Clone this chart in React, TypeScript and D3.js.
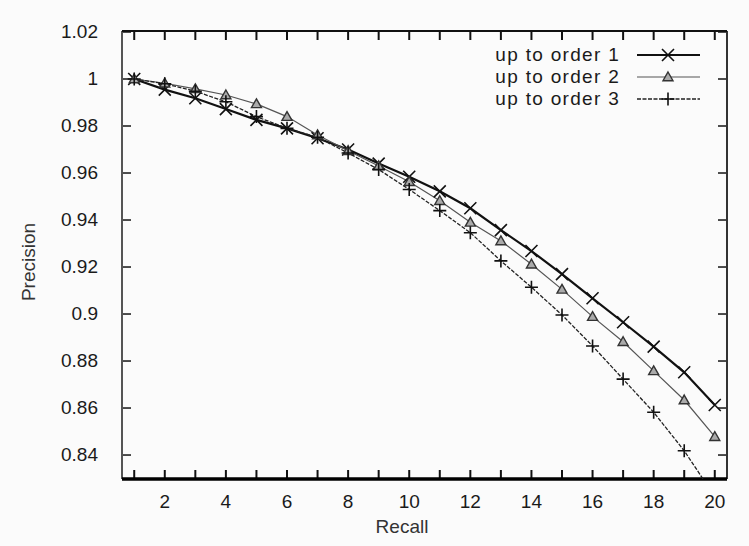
import React from "react";
import * as d3 from "d3";

// recall levels 1..20
const recall = [1, 2, 3, 4, 5, 6, 7, 8, 9, 10, 11, 12, 13, 14, 15, 16, 17, 18, 19, 20];

const order1 = [1.0, 0.9955, 0.9918, 0.9872, 0.9826, 0.979, 0.9748, 0.97, 0.964, 0.9584,
  0.9522, 0.945, 0.9357, 0.9268, 0.917, 0.9067, 0.8965, 0.8861, 0.8752, 0.8613];
const order2 = [1.0, 0.9982, 0.9958, 0.9932, 0.9894, 0.984, 0.9762, 0.9695, 0.963, 0.9563,
  0.9482, 0.939, 0.9311, 0.9212, 0.9105, 0.8989, 0.8882, 0.8758, 0.8634, 0.8478];
const order3 = [1.0, 0.998, 0.9948, 0.9903, 0.984, 0.979, 0.9752, 0.9685, 0.9615, 0.953,
  0.944, 0.9346, 0.9226, 0.9114, 0.8996, 0.8864, 0.8723, 0.8582, 0.8418, 0.8223];

const xTicks = recall;
const xLabels = [2, 4, 6, 8, 10, 12, 14, 16, 18, 20];
const yTicks = [1.02, 1, 0.98, 0.96, 0.94, 0.92, 0.9, 0.88, 0.86, 0.84];

const seriesNames = ["up to order 1", "up to order 2", "up to order 3"];

const W = 749, H = 546;
const L = 122, R = 727, T = 31, B = 479;
const font = "'Liberation Sans', Arial, sans-serif";

function Marker({ kind, x, y }: { kind: number; x: number; y: number }) {
  if (kind === 0) {
    const s = 6;
    return (
      <path d={`M${x - s},${y - s}L${x + s},${y + s}M${x - s},${y + s}L${x + s},${y - s}`}
        stroke="#111" strokeWidth={1.6} fill="none" />
    );
  }
  if (kind === 1) {
    const s = 5;
    return (
      <path d={`M${x},${y - s}L${x + s},${y + s * 0.75}L${x - s},${y + s * 0.75}Z`}
        stroke="#333" strokeWidth={1.4} fill="#aaa" />
    );
  }
  const s = 6.5;
  return (
    <path d={`M${x - s},${y}L${x + s},${y}M${x},${y - s}L${x},${y + s}`}
      stroke="#111" strokeWidth={1.6} fill="none" />
  );
}

export default function App() {
  const x = d3.scaleLinear().domain([0.6, 20.4]).range([L, R]);
  const y = d3.scaleLinear().domain([0.8298, 1.02]).range([B, T + 1]);

  const series = [order1, order2, order3];
  const styles = [
    { stroke: "#111", width: 2.2, dash: "none" },
    { stroke: "#555", width: 1.2, dash: "none" },
    { stroke: "#222", width: 1.3, dash: "4,1.5" },
  ];

  const line = d3.line<number>()
    .x((_, i) => x(recall[i]))
    .y(d => y(d));

  return (
    <svg width={W} height={H} style={{ position: "absolute", left: 0, top: 0 }}>
      <rect width={W} height={H} fill="#fbfbfb" />
      <defs>
        <clipPath id="plot">
          <rect x={L} y={T} width={R - L} height={B - T} />
        </clipPath>
      </defs>

      {/* ticks */}
      {xTicks.map(t => (
        <g key={"xt" + t}>
          <line x1={x(t)} x2={x(t)} y1={B} y2={B - 9} stroke="#111" strokeWidth={2} />
          <line x1={x(t)} x2={x(t)} y1={T} y2={T + 9} stroke="#111" strokeWidth={2} />
        </g>
      ))}
      {yTicks.map(t => (
        <g key={"yt" + t}>
          <line x1={L} x2={L + 9} y1={y(t)} y2={y(t)} stroke="#222" strokeWidth={1.6} />
          <line x1={R} x2={R - 9} y1={y(t)} y2={y(t)} stroke="#222" strokeWidth={1.6} />
        </g>
      ))}

      {/* frame */}
      <line x1={L} x2={L} y1={T} y2={B} stroke="#555" strokeWidth={2} />
      <line x1={R} x2={R} y1={T} y2={B} stroke="#333" strokeWidth={2} />
      <line x1={L} x2={R} y1={T} y2={T} stroke="#111" strokeWidth={2} />
      <line x1={L} x2={R} y1={B} y2={B} stroke="#000" strokeWidth={3.5} />

      {/* tick labels */}
      {xLabels.map(t => (
        <text key={"xl" + t} x={x(t)} y={508} textAnchor="middle" fontFamily={font}
          fontSize={19} fill="#1a1a1a">{t}</text>
      ))}
      {yTicks.map(t => (
        <text key={"yl" + t} x={98} y={y(t) + 6} textAnchor="end" fontFamily={font}
          fontSize={19} fill="#1a1a1a">{t === 1 ? "1" : String(t)}</text>
      ))}

      <text x={402} y={533} textAnchor="middle" fontFamily={font} fontSize={19} fill="#333">Recall</text>
      <text transform="translate(35,262) rotate(-90)" textAnchor="middle" fontFamily={font}
        fontSize={19} fill="#333">Precision</text>

      {/* series */}
      <g clipPath="url(#plot)">
        {series.map((s, k) => (
          <path key={"s" + k} d={line(s) || ""} fill="none" stroke={styles[k].stroke}
            strokeWidth={styles[k].width} strokeDasharray={styles[k].dash} />
        ))}
        {series.map((s, k) =>
          s.map((v, i) => <Marker key={`m${k}-${i}`} kind={k} x={x(recall[i])} y={y(v)} />)
        )}
      </g>

      {/* legend */}
      {seriesNames.map((n, k) => {
        const ly = 55 + k * 22;
        return (
          <g key={"lg" + k}>
            <text x={620} y={ly + 6} textAnchor="end" fontFamily={font} fontSize={19}
              letterSpacing={1.3} fill="#1a1a1a">{n}</text>
            <line x1={637} x2={700} y1={ly} y2={ly} stroke={styles[k].stroke}
              strokeWidth={styles[k].width} strokeDasharray={styles[k].dash} />
            <Marker kind={k} x={668} y={ly} />
          </g>
        );
      })}
    </svg>
  );
}
